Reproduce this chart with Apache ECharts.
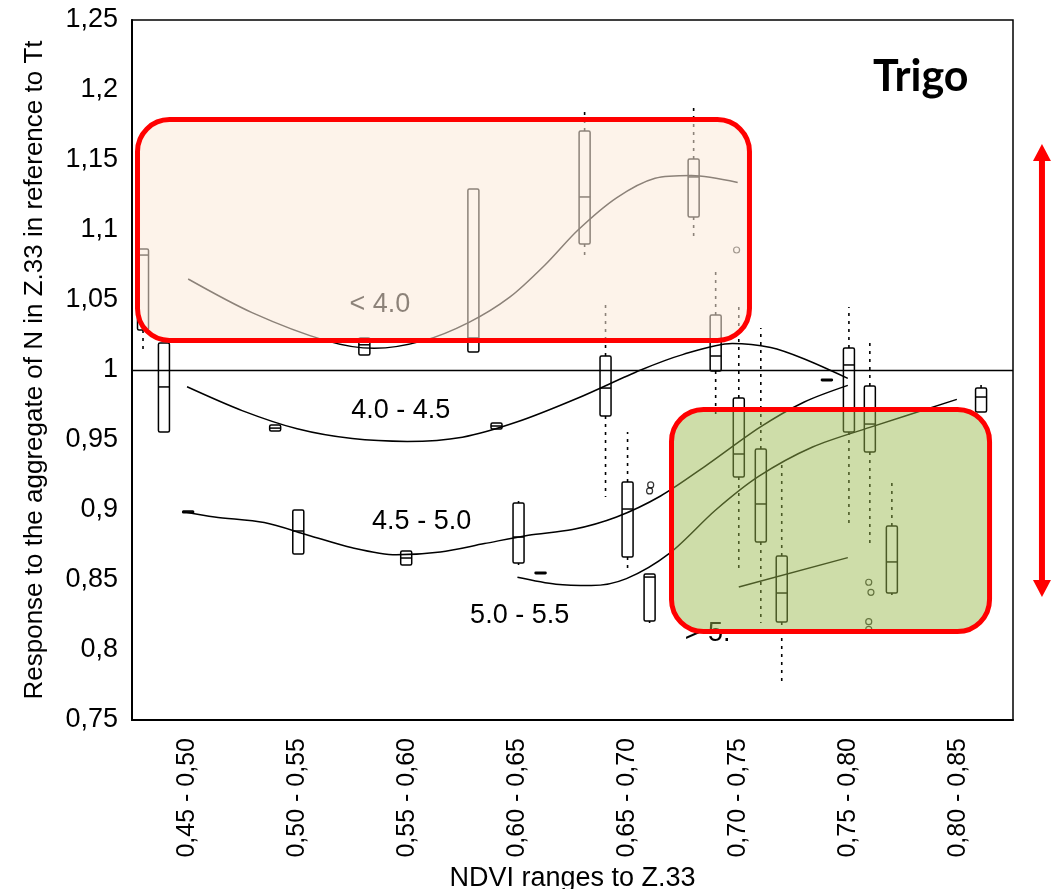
<!DOCTYPE html>
<html>
<head>
<meta charset="utf-8">
<script src="https://cdn.jsdelivr.net/npm/echarts@6/dist/echarts.min.js"></script>
<style>html,body{margin:0;padding:0;background:#fff}#chart{width:1064px;height:889px}</style>
</head>
<body>
<div id="chart"></div>
<script>
// ---------- data ----------
const categories = ['0,45 - 0,50','0,50 - 0,55','0,55 - 0,60','0,60 - 0,65','0,65 - 0,70','0,70 - 0,75','0,75 - 0,80','0,80 - 0,85'];
// box data: [position (category units), lower whisker, Q1, median, Q3, upper whisker]
const boxes = [
  [0.10, 1.0121, 1.0286, 1.0821, 1.0864, null],
  [0.29, null, 0.9557, 0.9879, 1.0193, null],
  [0.51, null, 0.8980, 0.8986, 0.8992, null],
  [1.30, null, 0.9564, 0.9585, 0.9607, null],
  [1.51, null, 0.8686, 0.8850, 0.9000, null],
  [2.11, null, 1.0107, 1.0180, 1.0229, null],
  [2.49, null, 0.8607, 0.8657, 0.8707, null],
  [3.10, null, 1.0129, 1.0229, 1.1293, null],
  [3.31, null, 0.9579, 0.9600, 0.9621, null],
  [3.51, 0.8607, 0.8621, 0.8807, 0.9050, 0.9064],
  [3.71, null, 0.8545, 0.8550, 0.8555, null],
  [4.11, 1.0807, 1.0900, 1.1236, 1.1707, 1.1871],
  [4.30, 0.9093, 0.9671, 0.9871, 1.0100, 1.0464],
  [4.50, 0.8586, 0.8664, 0.9007, 0.9200, 0.9557],
  [4.70, 0.8193, 0.8207, 0.8521, 0.8543, null],
  [5.10, 1.0921, 1.1093, 1.1379, 1.1507, 1.1879],
  [5.30, 0.9679, 0.9993, 1.0100, 1.0393, 1.0700],
  [5.51, 0.8586, 0.9236, 0.9400, 0.9800, 1.0450],
  [5.71, 0.8193, 0.8771, 0.9043, 0.9436, 1.0300],
  [5.90, 0.7764, 0.8200, 0.8407, 0.8671, 0.9336],
  [6.31, null, 0.9924, 0.9929, 0.9934, null],
  [6.51, 0.8907, 0.9557, 1.0036, 1.0157, 1.0450],
  [6.70, 0.8764, 0.9414, 0.9614, 0.9886, 1.0193],
  [6.90, 0.8393, 0.8407, 0.8629, 0.8886, 0.9193],
  [7.71, null, 0.9700, 0.9807, 0.9871, 0.9893]
];
const outliers = [
  [4.71, 0.9179], [4.70, 0.9136], [5.49, 1.0857],
  [6.69, 0.8484], [6.71, 0.8412], [6.69, 0.8202], [6.69, 0.8148]
];
// fitted curves per fertilisation group
const curveLt40 = [[0.51,1.065],[1.09,1.041],[1.76,1.021],[2.2,1.0155],[2.65,1.021],[3.06,1.034],[3.43,1.052],[3.75,1.075],[4.05,1.100],[4.4,1.123],[4.75,1.137],[5.08,1.139],[5.5,1.134]];
const curve40_45 = [[0.50,0.988],[1.0,0.971],[1.5,0.958],[2.0,0.951],[2.5,0.949],[3.0,0.952],[3.5,0.963],[4.05,0.980],[4.62,1.000],[5.0,1.011],[5.45,1.019],[5.8,1.016],[6.1,1.008],[6.5,0.994]];
const curve45_50 = [[0.46,0.899],[0.75,0.895],[1.2,0.891],[1.6,0.882],[2.0,0.873],[2.4,0.868],[2.8,0.870],[3.2,0.876],[3.6,0.882],[4.0,0.886],[4.4,0.895],[4.8,0.910],[5.2,0.931],[5.7,0.959],[6.1,0.977],[6.5,0.989]];
const curve50_55 = [[3.50,0.852],[3.85,0.847],[4.17,0.846],[4.49,0.851],[4.88,0.869],[5.30,0.900],[5.69,0.924],[6.18,0.945],[6.7,0.959],[7.49,0.979]];
const curveGt55 = [[5.51,0.845],[6.50,0.866]];
// curve labels: [x, y, text]
const curveLabels = [
  [2.25, 1.0464, '< 4.0'],
  [2.44, 0.9707, '4.0 - 4.5'],
  [2.63, 0.8921, '4.5 - 5.0'],
  [3.52, 0.8243, '5.0 - 5.5']
];
const hiddenLabel = [[5.02, 0.8120, '> 5.']];
// highlight zones: [x0, yTop, x1, yBottom]
const zoneHigh = [[0.05, 1.1789, 5.607, 1.0211]];
const zoneLow = [[4.899, 0.9718, 7.787, 0.8132]];
const rangeArrow = [[8.263, 1.1614, 0.8379]];

// ---------- chart ----------
const chart = echarts.init(document.getElementById('chart'), null, {renderer: 'canvas'});
const FONT = "'Liberation Sans', Arial, sans-serif";

function boxItem(params, api) {
  const u = api.value(0);
  const lo = api.value(1), q1 = api.value(2), med = api.value(3), q3 = api.value(4), hi = api.value(5);
  const half = api.size([0.1, 0])[0] / 2;
  const cx = api.coord([u, q1])[0];
  const yq1 = api.coord([u, q1])[1], yq3 = api.coord([u, q3])[1], ym = api.coord([u, med])[1];
  const ch = [];
  const ls = {stroke: '#000', lineWidth: 1.5, fill: null};
  const ds = {stroke: '#000', lineWidth: 1.6, lineDash: [3, 5], fill: null};
  if (!isNaN(hi) && hi !== null) {
    const yh = api.coord([u, hi])[1];
    ch.push({type: 'line', shape: {x1: cx, y1: yq3, x2: cx, y2: yh}, style: ds});
  }
  if (!isNaN(lo) && lo !== null) {
    const yl = api.coord([u, lo])[1];
    ch.push({type: 'line', shape: {x1: cx, y1: yq1, x2: cx, y2: yl}, style: ds});
  }
  ch.push({type: 'rect', shape: {x: cx - half, y: yq3, width: half * 2, height: Math.max(yq1 - yq3, 1), r: 1.5}, style: ls});
  ch.push({type: 'line', shape: {x1: cx - half, y1: ym, x2: cx + half, y2: ym}, style: ls});
  return {type: 'group', children: ch};
}

function zoneItem(fill) {
  return function (params, api) {
    const p0 = api.coord([api.value(0), api.value(1)]);
    const p1 = api.coord([api.value(2), api.value(3)]);
    return {type: 'rect', shape: {x: p0[0], y: p0[1], width: p1[0] - p0[0], height: p1[1] - p0[1], r: 32},
      style: {fill: fill, stroke: '#ff0000', lineWidth: 5}};
  };
}

function textItem(align, color) {
  return function (params, api) {
    const p = api.coord([api.value(0), api.value(1)]);
    return {type: 'text', x: p[0], y: p[1], style: {text: api.value(2), fontSize: 27, fontFamily: FONT, fill: color, align: align, verticalAlign: 'middle'}};
  };
}

function lineSeries(name, data) {
  return {name: name, type: 'line', xAxisIndex: 1, data: data, smooth: 0.3, showSymbol: false, symbol: 'none',
    lineStyle: {color: '#000', width: 1.5}, z: 2, silent: true};
}

chart.setOption({
  animation: false,
  backgroundColor: '#fff',
  title: {text: 'Trigo', left: 873, top: 56, padding: 0, textStyle: {fontFamily: "Lato, 'Open Sans', sans-serif", fontWeight: 'bold', fontSize: 43, color: '#000'}},
  grid: {left: 132, right: 51, top: 20, bottom: 169, outerBoundsMode: 'none', containLabel: false, show: true, borderColor: '#000', borderWidth: 1.5, backgroundColor: 'transparent'},
  xAxis: [
    {type: 'category', data: categories, boundaryGap: true,
      axisLine: {show: true, lineStyle: {color: '#000', width: 2}}, axisTick: {show: false},
      axisLabel: {rotate: 90, margin: 18, fontSize: 25, fontFamily: FONT, color: '#000', interval: 0},
      name: 'NDVI ranges to Z.33', nameLocation: 'middle', nameGap: 134,
      nameTextStyle: {fontSize: 27, fontFamily: FONT, color: '#000'}},
    {type: 'value', min: 0, max: 8, show: false}
  ],
  yAxis: {type: 'value', min: 0.75, max: 1.25, interval: 0.05,
    axisLine: {show: true, lineStyle: {color: '#000', width: 2}}, axisTick: {show: false}, splitLine: {show: false},
    axisLabel: {fontSize: 27, fontFamily: FONT, color: '#000', margin: 14,
      formatter: v => String(Math.round(v * 100) / 100).replace('.', ',')},
    name: 'Response to the aggregate of N in Z.33 in reference to Tt', nameLocation: 'middle', nameGap: 84,
    nameTextStyle: {fontSize: 26, fontFamily: FONT, color: '#000'}},
  series: [
    {type: 'line', xAxisIndex: 1, data: [], markLine: {silent: true, symbol: 'none', label: {show: false},
      lineStyle: {color: '#000', width: 1.3, type: 'solid'}, data: [{yAxis: 1}]}, z: 2},
    lineSeries('< 4.0', curveLt40),
    lineSeries('4.0 - 4.5', curve40_45),
    lineSeries('4.5 - 5.0', curve45_50),
    lineSeries('5.0 - 5.5', curve50_55),
    lineSeries('> 5.0', curveGt55),
    {type: 'custom', xAxisIndex: 1, data: boxes, renderItem: boxItem, z: 3, silent: true},
    {type: 'scatter', xAxisIndex: 1, data: outliers, symbol: 'circle', symbolSize: 6,
      itemStyle: {color: 'rgba(0,0,0,0)', borderColor: '#000', borderWidth: 1.2}, z: 3, silent: true},
    {type: 'custom', xAxisIndex: 1, data: curveLabels, renderItem: textItem('center', '#000'), z: 4, silent: true},
    {type: 'custom', xAxisIndex: 1, data: hiddenLabel, renderItem: textItem('left', '#000'), z: 4, silent: true},
    {type: 'custom', xAxisIndex: 1, data: zoneHigh, renderItem: zoneItem('rgba(251,233,217,0.557)'), z: 6, silent: true},
    {type: 'custom', xAxisIndex: 1, data: zoneLow, renderItem: zoneItem('rgba(155,186,78,0.485)'), z: 6, silent: true},
    {type: 'custom', xAxisIndex: 1, data: rangeArrow, silent: true, z: 6, clip: false,
      renderItem: function (params, api) {
        const u = api.value(0);
        const pt = api.coord([u, api.value(1)]);
        const pb = api.coord([u, api.value(2)]);
        const x = pt[0], hh = 17, hw = 9;
        return {type: 'group', children: [
          {type: 'rect', shape: {x: x - 3, y: pt[1] + hh - 1, width: 6, height: pb[1] - pt[1] - 2 * hh + 2}, style: {fill: '#ff0000'}},
          {type: 'polygon', shape: {points: [[x, pt[1]], [x - hw, pt[1] + hh], [x + hw, pt[1] + hh]]}, style: {fill: '#ff0000'}},
          {type: 'polygon', shape: {points: [[x, pb[1]], [x - hw, pb[1] - hh], [x + hw, pb[1] - hh]]}, style: {fill: '#ff0000'}}
        ]};
      }}
  ]
});
</script>
</body>
</html>
